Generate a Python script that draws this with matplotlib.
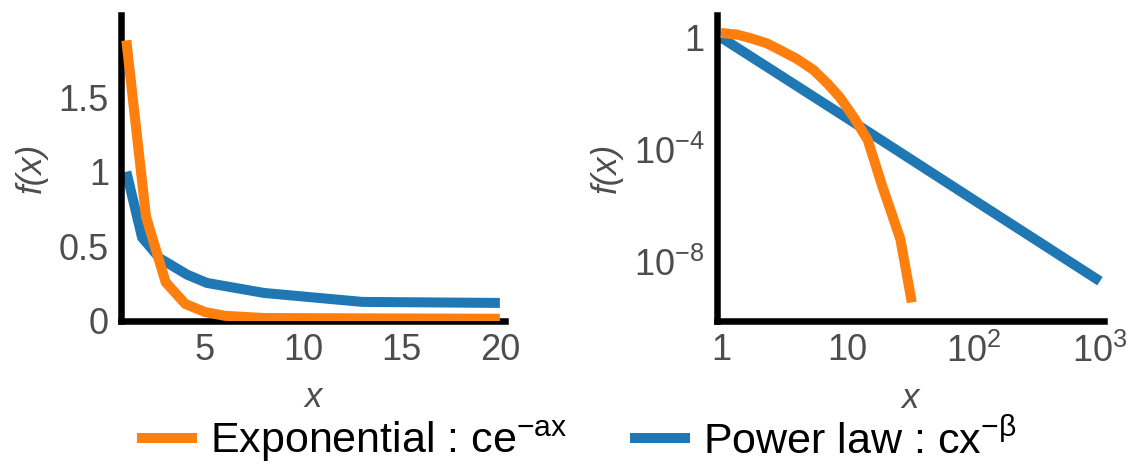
import matplotlib
matplotlib.use("Agg")
import matplotlib.pyplot as plt

# ---- data ----
# left panel (linear axes)
exp_lin_x = [1, 2, 3, 4, 5, 6, 8, 20]
exp_lin_y = [1.88, 0.70, 0.26, 0.114, 0.06, 0.035, 0.02, 0.015]
pow_lin_x = [1, 1.8, 2.7, 4.1, 5.1, 8, 13, 20]
pow_lin_y = [1.0, 0.56, 0.42, 0.31, 0.255, 0.188, 0.128, 0.121]

# right panel (log-log axes)
exp_log_x = [1, 1.35, 1.7, 2.3, 2.95, 4.0, 5.4, 7.0, 8.7, 11.2, 14.5, 19, 22.5, 26.3, 32.4]
exp_log_y = [1.45, 1.25, 0.95, 0.62, 0.35, 0.17, 0.069, 0.022, 7.4e-3, 1.45e-3,
             2.2e-4, 4.6e-6, 5.0e-7, 6.3e-8, 3.5e-10]
pow_log_x = [1, 10, 100, 1000]
pow_log_y = [1.0, 1.3e-3, 1.6e-6, 2.0e-9]

lin_xticks = [5, 10, 15, 20]
lin_yticks = [0, 0.5, 1, 1.5]
lin_yticklabels = ["0", "0.5", "1", "1.5"]
log_xticks = [1, 10, 100, 1000]
log_xticklabels = ["1", "10", r"$\mathregular{10^{2}}$", r"$\mathregular{10^{3}}$"]
log_yticks = [1, 1e-4, 1e-8]
log_yticklabels = ["1", r"$\mathregular{10^{-4}}$", r"$\mathregular{10^{-8}}$"]

labels = [r"Exponential : $\mathregular{ce^{-ax}}$", r"Power law : $\mathregular{cx^{-\beta}}$"]

ORANGE = "#ff7f0e"
BLUE = "#1f77b4"
TXT = "#4d4d4d"

plt.rcParams["font.family"] = ["Liberation Sans", "DejaVu Sans"]
plt.rcParams["mathtext.fontset"] = "custom"
plt.rcParams["mathtext.rm"] = "Liberation Sans"
plt.rcParams["mathtext.it"] = "Liberation Sans:italic"

fig = plt.figure(figsize=(11.35, 4.68), dpi=100)
W, H = 1135, 468
axL = fig.add_axes([121.5 / W, 1 - 321 / H, 383.5 / W, 306 / H])
axR = fig.add_axes([717 / W, 1 - 321 / H, 387 / W, 306 / H])

lw = 7.2
lE, = axL.plot(exp_lin_x, exp_lin_y, color=ORANGE, lw=lw, solid_capstyle="butt", zorder=3)
lP, = axL.plot(pow_lin_x, pow_lin_y, color=BLUE, lw=lw, solid_capstyle="butt", zorder=2)
axL.set_xlim(0.755, 20.26)
axL.set_ylim(0, 2.05)
axL.set_xticks(lin_xticks)
axL.set_yticks(lin_yticks)
axL.set_yticklabels(lin_yticklabels)

axR.plot(exp_log_x, exp_log_y, color=ORANGE, lw=lw, solid_capstyle="butt", zorder=3)
axR.plot(pow_log_x, pow_log_y, color=BLUE, lw=lw, solid_capstyle="butt", zorder=2)
axR.set_xscale("log")
axR.set_yscale("log")
axR.set_xlim(0.93, 1076)
axR.set_ylim(10 ** -10.12, 10 ** 0.8)
axR.set_xticks(log_xticks)
axR.set_xticklabels(log_xticklabels)
axR.set_yticks(log_yticks)
axR.set_yticklabels(log_yticklabels)
axR.minorticks_off()

for ax in (axL, axR):
    for s in ("top", "right"):
        ax.spines[s].set_visible(False)
    for s in ("left", "bottom"):
        ax.spines[s].set_linewidth(4.7)
        ax.spines[s].set_color("black")
    ax.tick_params(length=0, labelsize=26, labelcolor=TXT, pad=9)
    ax.set_xlabel("x", fontsize=25, color=TXT, style="italic", labelpad=9)
    ax.set_ylabel("f(x)", fontsize=25, color=TXT, style="italic", labelpad=8)
    ax.set_facecolor("white")

fig.legend([lE, lP], labels, loc="lower center", bbox_to_anchor=(0.508, -0.075),
           ncol=2, frameon=False, fontsize=31, handlelength=1.4,
           handletextpad=0.3, columnspacing=1.45)

fig.savefig("out.png", dpi=100, facecolor="white")
